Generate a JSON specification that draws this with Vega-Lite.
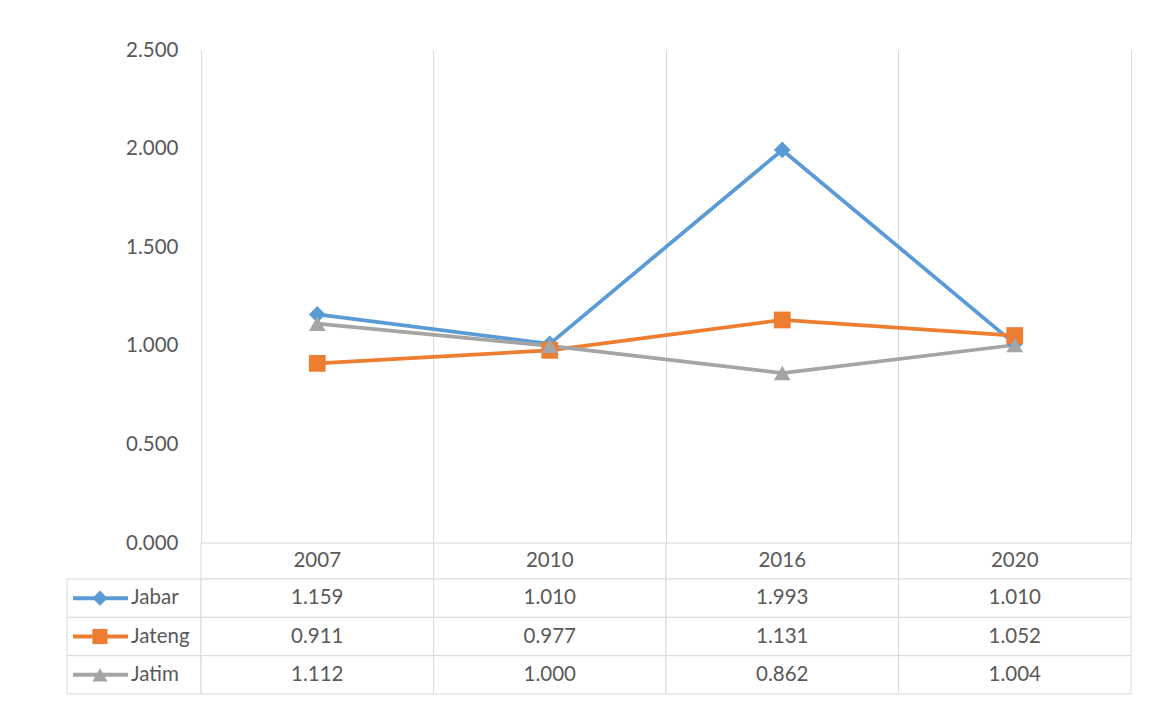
{
  "$schema": "https://vega.github.io/schema/vega-lite/v6.json",
  "background": "white",
  "padding": {"left": 66, "top": 40, "right": 5, "bottom": 5},
  "datasets": {
    "d": [
      {"series": "Jabar", "year": "2007", "value": 1.159},
      {"series": "Jabar", "year": "2010", "value": 1.010},
      {"series": "Jabar", "year": "2016", "value": 1.993},
      {"series": "Jabar", "year": "2020", "value": 1.010},
      {"series": "Jateng", "year": "2007", "value": 0.911},
      {"series": "Jateng", "year": "2010", "value": 0.977},
      {"series": "Jateng", "year": "2016", "value": 1.131},
      {"series": "Jateng", "year": "2020", "value": 1.052},
      {"series": "Jatim", "year": "2007", "value": 1.112},
      {"series": "Jatim", "year": "2010", "value": 1.000},
      {"series": "Jatim", "year": "2016", "value": 0.862},
      {"series": "Jatim", "year": "2020", "value": 1.004}
    ]
  },
  "columns": 2,
  "spacing": 0,
  "bounds": "flush",
  "concat": [
    {
      "width": 134, "height": 493,
      "data": {"values": []},
      "mark": "point"
    },
    {
      "width": 930, "height": 493,
      "data": {"name": "d"},
      "encoding": {
        "x": {"field": "year", "type": "ordinal", "bandPosition": 0.5,
          "scale": {"type": "band", "paddingInner": 0, "paddingOuter": 0},
          "axis": {"title": null, "labels": false, "ticks": false, "domain": false, "grid": true,
            "gridColor": "#d9d9d9", "gridWidth": 1, "bandPosition": 1}},
        "y": {"field": "value", "type": "quantitative",
          "scale": {"domain": [0, 2.5], "nice": false, "zero": true},
          "axis": {"title": null, "values": [0, 0.5, 1, 1.5, 2, 2.5], "format": ".3f", "grid": false,
            "ticks": false, "tickSize": 0, "domain": true, "domainColor": "#d9d9d9", "domainWidth": 1,
            "labelPadding": 23}},
        "color": {"field": "series", "type": "nominal",
          "scale": {"domain": ["Jabar", "Jateng", "Jatim"], "range": ["#5B9BD5", "#ED7D31", "#A5A5A5"]},
          "legend": null}
      },
      "layer": [
        {"mark": {"type": "line", "strokeWidth": 3.75}},
        {"mark": {"type": "point", "filled": true, "opacity": 1, "size": 280},
          "encoding": {"shape": {"field": "series", "type": "nominal",
            "scale": {"domain": ["Jabar", "Jateng", "Jatim"], "range": ["diamond", "square", "triangle-up"]},
            "legend": null}}}
      ]
    },
    {
      "width": 134, "height": 36,
      "data": {"values": []},
      "mark": "point"
    },
    {
      "width": 930, "height": 36,
      "data": {"name": "d"},
      "transform": [{"aggregate": [], "groupby": ["year"]}],
      "encoding": {
        "x": {"field": "year", "type": "ordinal",
          "scale": {"type": "band", "paddingInner": 0, "paddingOuter": 0}, "axis": null}
      },
      "layer": [
        {"mark": {"type": "rect", "fill": "white", "stroke": "#d9d9d9", "strokeWidth": 1}},
        {"mark": {"type": "text", "font": "Lato", "fontSize": 20.5, "color": "#595959"},
          "encoding": {"x": {"field": "year", "type": "ordinal", "bandPosition": 0.5}, "text": {"field": "year"}}}
      ]
    },
    {
      "width": 134, "height": 115,
      "data": {"name": "d"},
      "transform": [{"aggregate": [], "groupby": ["series"]}],
      "layer": [
        {"mark": {"type": "rect", "fill": "white", "stroke": "#d9d9d9", "strokeWidth": 1},
          "encoding": {"y": {"field": "series", "type": "nominal",
            "scale": {"type": "band", "domain": ["Jabar", "Jateng", "Jatim"], "paddingInner": 0, "paddingOuter": 0},
            "axis": null}}},
        {"mark": {"type": "rule", "strokeWidth": 4},
          "encoding": {
            "y": {"field": "series", "type": "nominal", "bandPosition": 0.5},
            "x": {"datum": 0.045, "type": "quantitative", "scale": {"domain": [0, 1], "nice": false, "zero": false}, "axis": null},
            "x2": {"datum": 0.455},
            "color": {"field": "series", "type": "nominal",
              "scale": {"domain": ["Jabar", "Jateng", "Jatim"], "range": ["#5B9BD5", "#ED7D31", "#A5A5A5"]}, "legend": null}}},
        {"mark": {"type": "point", "filled": true, "opacity": 1, "size": 230},
          "encoding": {
            "y": {"field": "series", "type": "nominal", "bandPosition": 0.5},
            "x": {"datum": 0.246, "type": "quantitative"},
            "color": {"field": "series", "type": "nominal", "legend": null},
            "shape": {"field": "series", "type": "nominal",
              "scale": {"domain": ["Jabar", "Jateng", "Jatim"], "range": ["diamond", "square", "triangle-up"]}, "legend": null}}},
        {"mark": {"type": "text", "align": "left", "font": "Lato", "fontSize": 20.5, "color": "#595959"},
          "encoding": {
            "y": {"field": "series", "type": "nominal", "bandPosition": 0.5},
            "x": {"datum": 0.478, "type": "quantitative"},
            "text": {"field": "series"}}}
      ]
    },
    {
      "width": 930, "height": 115,
      "data": {"name": "d"},
      "encoding": {
        "x": {"field": "year", "type": "ordinal",
          "scale": {"type": "band", "paddingInner": 0, "paddingOuter": 0}, "axis": null},
        "y": {"field": "series", "type": "nominal",
          "scale": {"type": "band", "domain": ["Jabar", "Jateng", "Jatim"], "paddingInner": 0, "paddingOuter": 0},
          "axis": null}
      },
      "layer": [
        {"mark": {"type": "rect", "fill": "white", "stroke": "#d9d9d9", "strokeWidth": 1}},
        {"mark": {"type": "text", "font": "Lato", "fontSize": 20.5, "color": "#595959"},
          "encoding": {
            "x": {"field": "year", "type": "ordinal", "bandPosition": 0.5},
            "y": {"field": "series", "type": "nominal", "bandPosition": 0.5},
            "text": {"field": "value", "type": "quantitative", "format": ".3f"}}}
      ]
    }
  ],
  "config": {
    "font": "Lato",
    "view": {"stroke": null},
    "axis": {"labelFont": "Lato", "labelFontSize": 20.5, "labelColor": "#595959"}
  }
}
